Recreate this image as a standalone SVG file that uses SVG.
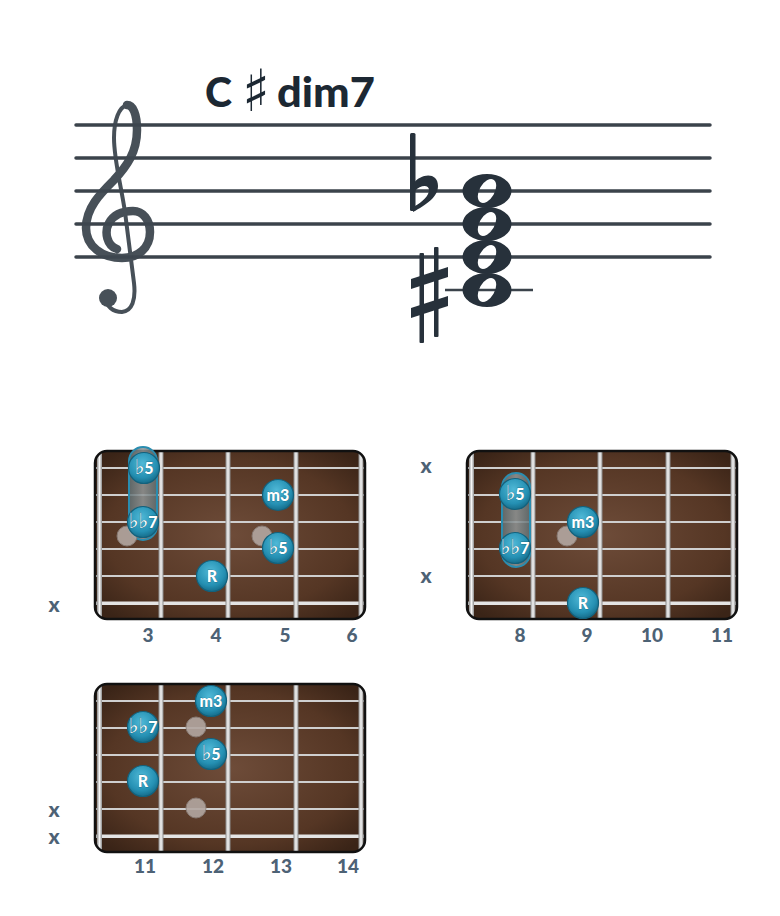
<svg xmlns="http://www.w3.org/2000/svg" xmlns:xlink="http://www.w3.org/1999/xlink" width="780" height="916" viewBox="0 0 780 916">
<style>
.staff{stroke:#3b434b;stroke-width:3.5;stroke-linecap:round}
.ink{fill:#27313b}
.title{font-family:Lato,"Open Sans","DejaVu Sans",sans-serif;font-weight:900;font-size:41px;fill:#1c2833}
.lbl{font-family:Lato,"Open Sans","DejaVu Sans",sans-serif;font-weight:900;font-size:19px;fill:#4d6275;text-anchor:middle}
.xm{font-family:Lato,"Open Sans","DejaVu Sans",sans-serif;font-weight:900;font-size:21px;fill:#4d6275;text-anchor:middle}
.dot{fill:url(#dotg);stroke:#13617c;stroke-width:1.2}
.dt{font-family:Lato,"Open Sans","DejaVu Sans",sans-serif;font-weight:900;font-size:16px;fill:#fff;text-anchor:middle;stroke:#0f4f66;stroke-width:0.4;paint-order:stroke}
.fl{font-family:"DejaVu Sans",sans-serif;font-weight:400;font-size:21px;fill:#fff}
.ghost{fill:#b3a7a1;stroke:#8d817b;stroke-width:1;opacity:.9}
.bar{fill:url(#barg);stroke:#2a8db0;stroke-width:2}
</style>
<defs>
<radialGradient id="wood" cx="50%" cy="50%" r="65%">
<stop offset="0" stop-color="#6e4c39"/>
<stop offset="0.7" stop-color="#553624"/>
<stop offset="1" stop-color="#3a2417"/>
</radialGradient>
<linearGradient id="fretg" x1="0" y1="0" x2="1" y2="0">
<stop offset="0" stop-color="#8c8c8c"/>
<stop offset="0.5" stop-color="#f6f6f6"/>
<stop offset="1" stop-color="#8c8c8c"/>
</linearGradient>
<radialGradient id="dotg" cx="45%" cy="35%" r="65%">
<stop offset="0" stop-color="#4fb8d6"/>
<stop offset="0.7" stop-color="#2590b3"/>
<stop offset="1" stop-color="#166d8b"/>
</radialGradient>
<linearGradient id="barg" x1="0" y1="0" x2="1" y2="0">
<stop offset="0" stop-color="#5f6f73" stop-opacity="0.85"/>
<stop offset="0.5" stop-color="#8f9596" stop-opacity="0.85"/>
<stop offset="1" stop-color="#5f6f73" stop-opacity="0.85"/>
</linearGradient>
<clipPath id="bclip"><rect x="0" y="0" width="270" height="168" rx="12"/></clipPath>
<g id="board">
<g clip-path="url(#bclip)">
<rect x="0" y="0" width="270" height="168" fill="url(#wood)"/>
<g fill="#cfcfcf">
<rect x="0" y="16" width="270" height="2"/>
<rect x="0" y="43" width="270" height="2"/>
<rect x="0" y="70" width="270" height="2"/>
<rect x="0" y="97" width="270" height="2"/>
<rect x="0" y="124" width="270" height="2"/>
<rect x="0" y="150.5" width="270" height="3.5" fill="#e4e4e4"/>
</g>
<g fill="url(#fretg)">
<rect x="2" y="0" width="5" height="168"/>
<rect x="63.5" y="0" width="5" height="168"/>
<rect x="130.5" y="0" width="5" height="168"/>
<rect x="198.5" y="0" width="5" height="168"/>
<rect x="263.5" y="0" width="5" height="168"/>
</g>
</g>
<rect x="0" y="0" width="270" height="168" rx="12" fill="none" stroke="#111" stroke-width="2.5"/>
</g>
<path id="wn" fill-rule="evenodd" d="M-24.5 0 A24.5 17 0 1 0 24.5 0 A24.5 17 0 1 0 -24.5 0 Z M6.5 -11.3 A13 7.5 120 1 0 -6.5 11.3 A13 7.5 120 1 0 6.5 -11.3 Z"/>
</defs>
<rect width="780" height="916" fill="#fff"/>

<g id="title">
<text class="title" x="205" y="107">C</text>
<text x="256" y="111" font-family="DejaVu Sans,sans-serif" font-weight="700" font-size="58" fill="#1c2833" text-anchor="middle">♯</text>
<text class="title" x="277" y="107" textLength="98" lengthAdjust="spacingAndGlyphs">dim7</text>
</g>

<g id="staff">
<line class="staff" x1="76" y1="125" x2="710" y2="125"/>
<line class="staff" x1="76" y1="158" x2="710" y2="158"/>
<line class="staff" x1="76" y1="191" x2="710" y2="191"/>
<line class="staff" x1="76" y1="224" x2="710" y2="224"/>
<line class="staff" x1="76" y1="257" x2="710" y2="257"/>
</g>

<g id="clef" fill="none" stroke="#3e4750" stroke-linecap="round" stroke-linejoin="round" opacity="0.95">
<path stroke-width="8.5" d="M117 249 C107 246 104 232 109 223 C114 214 124 211 133 211 C143 211 150 220 150 232 C150 248 138 258 122 258 C102 258 86 246 86 228 C86 208 100 194 114 180 C127 166 137 152 137 130 C137 114 133 105 127 105"/>
<path stroke-width="4" d="M127 105 C119 107 114 120 114 138 C114 160 121 185 125 212 L134 283 C136 300 132 311 122 312 C113 312 106 306 106 299"/>
<circle cx="108" cy="298" r="9" fill="#3e4750" stroke="none"/>
</g>

<g id="chord">
<line x1="445" y1="290" x2="533" y2="290" stroke="#3b434b" stroke-width="2.5"/>
<g class="ink">
<use xlink:href="#wn" href="#wn" x="487" y="191"/>
<use xlink:href="#wn" href="#wn" x="487" y="224"/>
<use xlink:href="#wn" href="#wn" x="487" y="257"/>
<use xlink:href="#wn" href="#wn" x="487" y="290"/>
</g>
<g id="flat" class="ink">
<rect x="410" y="133" width="5.5" height="78" rx="1.5"/>
<path fill-rule="evenodd" d="M413 184 C421 173 438 172 438 186 C438 197 426 205 413 212 Z M415 191 C420 185 429 184 429 190 C429 196 422 202 415 206 Z"/>
</g>
<g id="sharp" class="ink">
<rect x="419.5" y="253" width="4.5" height="90" rx="1"/>
<rect x="434" y="247" width="4.5" height="90" rx="1"/>
<polygon points="411,279 448,267 448,277 411,289"/>
<polygon points="411,308 448,296 448,306 411,318"/>
</g>
</g>

<g id="diagram1">
<use xlink:href="#board" href="#board" x="95" y="451"/>
<g transform="translate(95,451)">
<rect class="bar" x="34" y="-4" width="28" height="93" rx="14"/>
<circle class="ghost" cx="32" cy="85" r="10"/>
<circle class="ghost" cx="167" cy="85" r="10"/>
<g id="d1-b5a"><circle class="dot" cx="49" cy="17" r="15.5"/><text class="dt" x="49" y="22.5"><tspan class="fl">♭</tspan>5</text></g>
<g id="d1-m3"><circle class="dot" cx="183" cy="44" r="15.5"/><text class="dt" x="183" y="49.5">m3</text></g>
<g id="d1-bb7"><circle class="dot" cx="48" cy="71" r="15.5"/><text class="dt" x="48" y="76.5"><tspan class="fl">♭♭</tspan>7</text></g>
<g id="d1-b5b"><circle class="dot" cx="183" cy="97" r="15.5"/><text class="dt" x="183" y="102.5"><tspan class="fl">♭</tspan>5</text></g>
<g id="d1-R"><circle class="dot" cx="117" cy="125" r="15.5"/><text class="dt" x="117" y="130.5">R</text></g>
</g>
<text class="xm" x="54" y="612">x</text>
<text class="lbl" x="148" y="642">3</text>
<text class="lbl" x="216" y="642">4</text>
<text class="lbl" x="285" y="642">5</text>
<text class="lbl" x="352" y="642">6</text>
</g>

<g id="diagram2">
<use xlink:href="#board" href="#board" x="467" y="451"/>
<g transform="translate(467,451)">
<rect class="bar" x="35" y="22" width="28" height="94" rx="14"/>
<circle class="ghost" cx="100" cy="85" r="10"/>
<g id="d2-b5"><circle class="dot" cx="48" cy="43" r="15.5"/><text class="dt" x="48" y="48.5"><tspan class="fl">♭</tspan>5</text></g>
<g id="d2-m3"><circle class="dot" cx="116" cy="71" r="15.5"/><text class="dt" x="116" y="76.5">m3</text></g>
<g id="d2-bb7"><circle class="dot" cx="48" cy="97" r="15.5"/><text class="dt" x="48" y="102.5"><tspan class="fl">♭♭</tspan>7</text></g>
<g id="d2-R"><circle class="dot" cx="116" cy="152" r="15.5"/><text class="dt" x="116" y="157.5">R</text></g>
</g>
<text class="xm" x="426" y="473">x</text>
<text class="xm" x="426" y="583">x</text>
<text class="lbl" x="520" y="642">8</text>
<text class="lbl" x="587" y="642">9</text>
<text class="lbl" x="652" y="642">10</text>
<text class="lbl" x="722" y="642">11</text>
</g>

<g id="diagram3">
<use xlink:href="#board" href="#board" x="95" y="684"/>
<g transform="translate(95,684)">
<circle class="ghost" cx="101" cy="43" r="10"/>
<circle class="ghost" cx="101" cy="124" r="10"/>
<g id="d3-m3"><circle class="dot" cx="116" cy="17" r="15.5"/><text class="dt" x="116" y="22.5">m3</text></g>
<g id="d3-bb7"><circle class="dot" cx="48" cy="43" r="15.5"/><text class="dt" x="48" y="48.5"><tspan class="fl">♭♭</tspan>7</text></g>
<g id="d3-b5"><circle class="dot" cx="116" cy="70" r="15.5"/><text class="dt" x="116" y="75.5"><tspan class="fl">♭</tspan>5</text></g>
<g id="d3-R"><circle class="dot" cx="48" cy="97" r="15.5"/><text class="dt" x="48" y="102.5">R</text></g>
</g>
<text class="xm" x="54" y="817">x</text>
<text class="xm" x="54" y="844">x</text>
<text class="lbl" x="145" y="873">11</text>
<text class="lbl" x="213" y="873">12</text>
<text class="lbl" x="281" y="873">13</text>
<text class="lbl" x="348" y="873">14</text>
</g>
</svg>
